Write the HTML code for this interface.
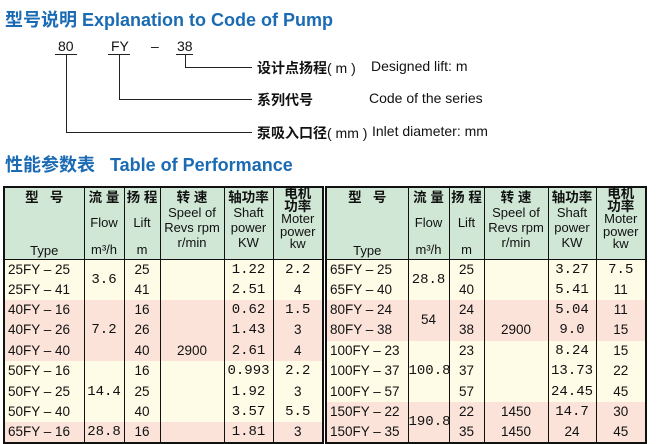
<!DOCTYPE html>
<html><head><meta charset="utf-8">
<style>
*{margin:0;padding:0;box-sizing:border-box}
body{width:659px;height:444px;background:#fff;position:relative;overflow:hidden;font-family:"Liberation Sans","Noto Sans CJK SC",sans-serif;color:#111}
.t{position:absolute;white-space:nowrap}
.title{color:#1a6bb3;font-weight:bold;font-size:18px}
.ln{position:absolute;background:#222}
table{position:absolute;top:186px;border-collapse:collapse;table-layout:fixed;font-size:13.5px}
table{border:2px solid #111}
td,th{border-left:1px solid #111;border-right:1px solid #111;padding:0;text-align:center;overflow:hidden;white-space:nowrap}
th{background:#cfe7d4;font-weight:normal;height:72px;vertical-align:top;border-bottom:1.5px solid #111;font-size:13px;line-height:15px}
td{height:20.4px;line-height:20px}
td.ty{text-align:left;padding-left:3px}
td.n{font-family:"Liberation Mono",monospace;font-size:14px}
.c{background:#fefbe6}
.p{background:#fbe3da}
.cn{font-weight:bold;font-size:13.5px}
.d{font-size:14px}
</style></head><body>
<div class="t title" style="left:5px;top:6px">型号说明 Explanation to Code of Pump</div>
<div class="t d" style="left:58px;top:38px">80</div>
<div class="t d" style="left:111px;top:38px">FY</div>
<div class="t d" style="left:151px;top:38px">–</div>
<div class="t d" style="left:177px;top:38px">38</div>
<div class="ln" style="left:55px;top:54px;width:22px;height:1px"></div>
<div class="ln" style="left:108px;top:54px;width:22px;height:1px"></div>
<div class="ln" style="left:176px;top:54px;width:17px;height:1px"></div>
<div class="ln" style="left:185px;top:54px;width:1px;height:13px"></div>
<div class="ln" style="left:185px;top:67px;width:67px;height:1px"></div>
<div class="ln" style="left:119px;top:54px;width:1px;height:45px"></div>
<div class="ln" style="left:119px;top:99px;width:133px;height:1px"></div>
<div class="ln" style="left:66px;top:54px;width:1px;height:78px"></div>
<div class="ln" style="left:66px;top:132px;width:186px;height:1px"></div>
<div class="t d" style="left:257px;top:58px"><b>设计点扬程</b>( m )</div>
<div class="t d" style="left:371px;top:58px">Designed lift: m</div>
<div class="t d" style="left:257px;top:90px"><b>系列代号</b></div>
<div class="t d" style="left:369px;top:90px">Code of the series</div>
<div class="t d" style="left:257px;top:123px"><b>泵吸入口径</b>( mm )</div>
<div class="t d" style="left:372px;top:123px">Inlet diameter: mm</div>
<div class="t title" style="left:5px;top:151px">性能参数表&nbsp;&nbsp; Table of Performance</div>

<table style="left:3px;width:319px">
<colgroup><col style="width:80px"><col style="width:40px"><col style="width:36px"><col style="width:64px"><col style="width:49px"><col style="width:50px"></colgroup>
<tr><th><div class="cn" style="margin-top:2px">型 &nbsp; 号</div><div style="margin-top:38px">Type</div></th>
<th><div class="cn" style="margin-top:2px">流 量</div><div style="margin-top:10px">Flow</div><div style="margin-top:12px">m³/h</div></th>
<th><div class="cn" style="margin-top:2px">扬 程</div><div style="margin-top:10px">Lift</div><div style="margin-top:12px">m</div></th>
<th><div class="cn" style="margin-top:2px">转 速</div><div>Speel of</div><div>Revs rpm</div><div>r/min</div></th>
<th><div class="cn" style="margin-top:2px">轴功率</div><div>Shaft</div><div>power</div><div>KW</div></th>
<th style="line-height:12.5px"><div class="cn">电机<br>功率</div><div>Moter</div><div>power</div><div>kw</div></th></tr>
<tr class="c"><td class="ty">25FY – 25</td><td rowspan="2" class="n">3.6</td><td>25</td><td></td><td class="n">1.22</td><td class="n">2.2</td></tr>
<tr class="c"><td class="ty">25FY – 41</td><td>41</td><td></td><td class="n">2.51</td><td>4</td></tr>
<tr class="p"><td class="ty">40FY – 16</td><td rowspan="3" class="n">7.2</td><td>16</td><td></td><td class="n">0.62</td><td class="n">1.5</td></tr>
<tr class="p"><td class="ty">40FY – 26</td><td>26</td><td></td><td class="n">1.43</td><td>3</td></tr>
<tr class="p"><td class="ty">40FY – 40</td><td>40</td><td>2900</td><td class="n">2.61</td><td>4</td></tr>
<tr class="c"><td class="ty">50FY – 16</td><td rowspan="3" class="n">14.4</td><td>16</td><td></td><td class="n">0.993</td><td class="n">2.2</td></tr>
<tr class="c"><td class="ty">50FY – 25</td><td>25</td><td></td><td class="n">1.92</td><td>3</td></tr>
<tr class="c"><td class="ty">50FY – 40</td><td>40</td><td></td><td class="n">3.57</td><td class="n">5.5</td></tr>
<tr class="p"><td class="ty">65FY – 16</td><td class="n">28.8</td><td>16</td><td></td><td class="n">1.81</td><td>3</td></tr>
</table>

<table style="left:325px;width:320px">
<colgroup><col style="width:82px"><col style="width:41px"><col style="width:35px"><col style="width:64px"><col style="width:48px"><col style="width:50px"></colgroup>
<tr><th><div class="cn" style="margin-top:2px">型 &nbsp; 号</div><div style="margin-top:38px">Type</div></th>
<th><div class="cn" style="margin-top:2px">流 量</div><div style="margin-top:10px">Flow</div><div style="margin-top:12px">m³/h</div></th>
<th><div class="cn" style="margin-top:2px">扬 程</div><div style="margin-top:10px">Lift</div><div style="margin-top:12px">m</div></th>
<th><div class="cn" style="margin-top:2px">转 速</div><div>Speel of</div><div>Revs rpm</div><div>r/min</div></th>
<th><div class="cn" style="margin-top:2px">轴功率</div><div>Shaft</div><div>power</div><div>KW</div></th>
<th style="line-height:12.5px"><div class="cn">电机<br>功率</div><div>Moter</div><div>power</div><div>kw</div></th></tr>
<tr class="c"><td class="ty">65FY – 25</td><td rowspan="2" class="n">28.8</td><td>25</td><td></td><td class="n">3.27</td><td class="n">7.5</td></tr>
<tr class="c"><td class="ty">65FY – 40</td><td>40</td><td></td><td class="n">5.41</td><td>11</td></tr>
<tr class="p"><td class="ty">80FY – 24</td><td rowspan="2">54</td><td>24</td><td></td><td class="n">5.04</td><td>11</td></tr>
<tr class="p"><td class="ty">80FY – 38</td><td>38</td><td>2900</td><td class="n">9.0</td><td>15</td></tr>
<tr class="c"><td class="ty">100FY – 23</td><td rowspan="3" class="n">100.8</td><td>23</td><td></td><td class="n">8.24</td><td>15</td></tr>
<tr class="c"><td class="ty">100FY – 37</td><td>37</td><td></td><td class="n">13.73</td><td>22</td></tr>
<tr class="c"><td class="ty">100FY – 57</td><td>57</td><td></td><td class="n">24.45</td><td>45</td></tr>
<tr class="p"><td class="ty">150FY – 22</td><td rowspan="2" class="n">190.8</td><td>22</td><td>1450</td><td class="n">14.7</td><td>30</td></tr>
<tr class="p"><td class="ty">150FY – 35</td><td>35</td><td>1450</td><td>24</td><td>45</td></tr>
</table>
</body></html>
